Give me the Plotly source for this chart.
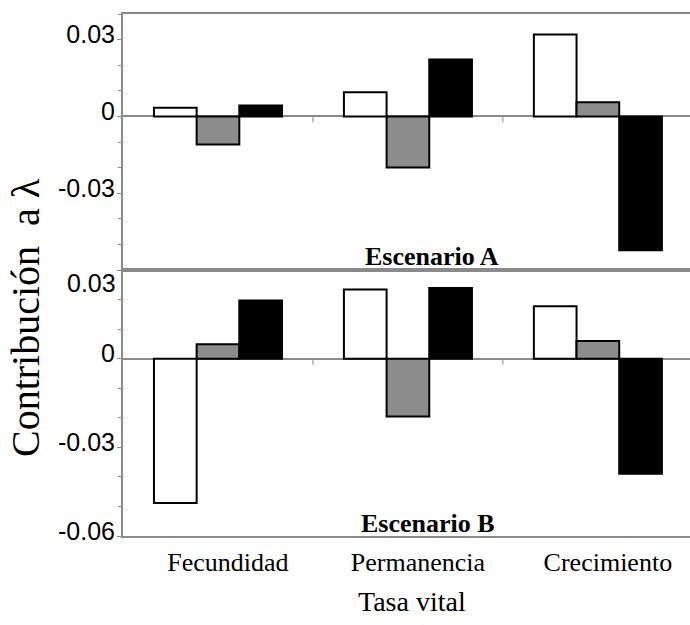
import plotly.graph_objects as go

# Vital rates on the horizontal axis
categories = ["Fecundidad", "Permanencia", "Crecimiento"]
series_names = ["Serie 1", "Serie 2", "Serie 3"]

# Contribution to lambda, scenario A (top panel)
escenario_a = {
    "Serie 1": [0.0034, 0.0094, 0.0320],
    "Serie 2": [-0.0110, -0.0200, 0.0055],
    "Serie 3": [0.0043, 0.0222, -0.0523],
}
# Contribution to lambda, scenario B (bottom panel)
escenario_b = {
    "Serie 1": [-0.0488, 0.0234, 0.0177],
    "Serie 2": [0.0049, -0.0196, 0.0060],
    "Serie 3": [0.0197, 0.0239, -0.0389],
}

top_ticks = [-0.03, 0, 0.03]
top_ticktext = ["-0.03", "0", "0.03"]
bottom_ticks = [-0.06, -0.03, 0, 0.03]
bottom_ticktext = ["-0.06", "-0.03", "0", ""]   # 0.03 label placed just inside the panel
bottom_top_label = "0.03"

fills = {"Serie 1": "#ffffff", "Serie 2": "#8c8c8c", "Serie 3": "#000000"}

W, H = 690, 625
ML, MR, MT, MB = 123, 0, 14, 89
split = (H - MB - 270) / (H - MT - MB)


def px_x(px):
    return (px - ML) / (W - ML - MR)


def px_y(py):
    return (H - MB - py) / (H - MT - MB)


SERIF = "Liberation Serif, Times New Roman, serif"
SANS = "Liberation Sans, Arial, sans-serif"
GRID = "#8a8a8a"
TICK_SIZE = 25

fig = go.Figure()
xpos = list(range(len(categories)))
for data, xa, ya in [(escenario_a, "x", "y"), (escenario_b, "x2", "y2")]:
    for name in series_names:
        fig.add_trace(go.Bar(
            x=xpos, y=data[name], name=name, xaxis=xa, yaxis=ya,
            marker=dict(color=fills[name], line=dict(color="#000000", width=2)),
            showlegend=False,
        ))

common_x = dict(
    range=[-0.5, 2.485], showline=True, mirror=True, linecolor=GRID, linewidth=2,
    showgrid=False, zeroline=False, ticks="", fixedrange=True,
)
common_y = dict(
    showline=True, linecolor=GRID, linewidth=2, showgrid=False,
    zeroline=True, zerolinecolor=GRID, zerolinewidth=1.5,
    ticks="outside", ticklen=4, tickcolor=GRID, tickwidth=1,
    tickfont=dict(family=SANS, size=TICK_SIZE, color="#000000"),
    ticklabelshift=-5, ticklabelstandoff=-3,
    minor=dict(dtick=0.01, tick0=0, ticks="outside", ticklen=3, tickcolor=GRID),
)

fig.update_layout(
    width=W, height=H,
    margin=dict(l=ML, r=MR, t=MT, b=MB),
    paper_bgcolor="white", plot_bgcolor="white",
    barmode="group", bargap=0.326, bargroupgap=0,
    xaxis=dict(domain=[0, 1], anchor="y", showticklabels=False, **common_x),
    yaxis=dict(domain=[split, 1], anchor="x", range=[-0.06, 0.04],
               tickmode="array", tickvals=top_ticks, ticktext=top_ticktext, **common_y),
    xaxis2=dict(domain=[0, 1], anchor="y2", tickmode="array", tickvals=xpos,
                ticktext=categories, ticklabelshift=10, ticklabelstandoff=2,
                tickfont=dict(family=SERIF, size=26, color="#000000"), **common_x),
    yaxis2=dict(domain=[0, split], anchor="x2", range=[-0.06, 0.03],
                tickmode="array", tickvals=bottom_ticks, ticktext=bottom_ticktext, **common_y),
)

# small separators on the zero line between vital-rate groups
for xa, ya in [("x", "y"), ("x2", "y2")]:
    for b in [0.5, 1.5]:
        fig.add_shape(type="line", xref=xa, yref=ya, x0=b, x1=b,
                      ysizemode="pixel", yanchor=0, y0=-6, y1=0,
                      line=dict(color=GRID, width=1))


def label(text, x, y, size, family=SERIF, angle=0, xanchor="center"):
    fig.add_annotation(text=text, xref="paper", yref="paper",
                       x=px_x(x), y=px_y(y), xanchor=xanchor, yanchor="middle",
                       showarrow=False, textangle=angle,
                       font=dict(family=family, size=size, color="#000000"))


label(bottom_top_label, 118, 283, TICK_SIZE, family=SANS, xanchor="right")
label("<b>Escenario A</b>", 432, 256, 26)
label("<b>Escenario B</b>", 428, 523, 26)
label("Tasa vital", 412, 601, 28)
label("Contribución  a λ", 25, 318, 40, angle=-90)

fig.write_html("out.html")
